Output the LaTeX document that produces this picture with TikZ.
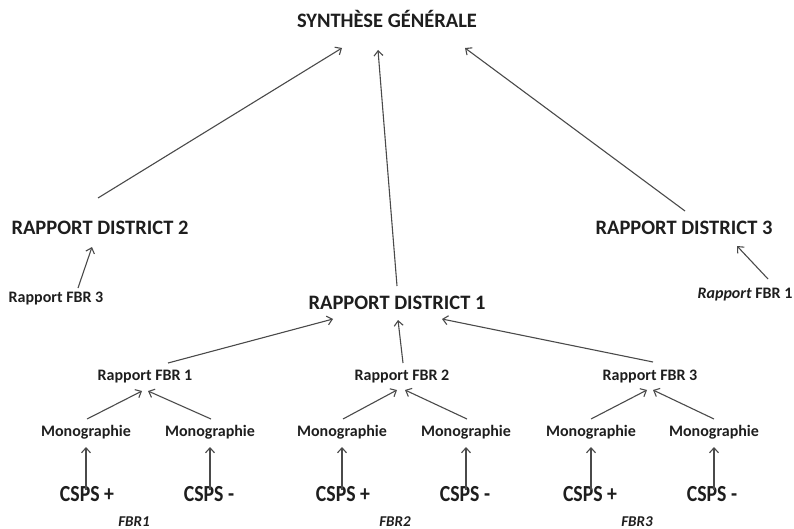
\documentclass[tikz,border=0pt]{standalone}
\usepackage{fontspec}
\setmainfont{Carlito}
\newfontfamily\cspsfont[FakeStretch=0.86]{Carlito}
\usepackage{tikz}
\usetikzlibrary{arrows.meta, positioning}

\definecolor{inkdark}{HTML}{1E1E1E}
\definecolor{linegray}{HTML}{4A4A4A}

\begin{document}
\begin{tikzpicture}[
    x=1pt, y=-1pt,
    every node/.style={inner sep=0pt, anchor=base, text=inkdark},
    title/.style={font=\fontsize{20.5}{24}\selectfont\bfseries},
    district/.style={font=\fontsize{20.5}{24}\selectfont\bfseries},
    report/.style={font=\fontsize{16}{19}\selectfont\bfseries},
    mono/.style={font=\fontsize{16}{19}\selectfont\bfseries},
    csps/.style={font=\cspsfont\fontsize{23}{26}\selectfont\bfseries},
    zone/.style={font=\fontsize{15}{17}\selectfont\bfseries\itshape},
    arrow/.style={-{Straight Barb[length=5pt, width=9pt]}, line width=1.1pt, draw=linegray}
]
\useasboundingbox (0,0) rectangle (794,529);

% top level
\node[title] (synth) at (387,28) {SYNTHÈSE GÉNÉRALE};

% districts
\node[district] (d2) at (100,234) {RAPPORT DISTRICT 2};
\node[district] (d3) at (684,234) {RAPPORT DISTRICT 3};
\node[district] (d1) at (397,309) {RAPPORT DISTRICT 1};

\node[report] (fbr3L) at (56,302) {Rapport FBR 3};
\node[report] (fbr1R) at (745,298) {\textit{Rapport} FBR 1};

% district 1 detail
\node[report] (fbr1) at (145,380) {Rapport FBR 1};
\node[report] (fbr2) at (402,380) {Rapport FBR 2};
\node[report] (fbr3) at (650,380) {Rapport FBR 3};

\foreach \i/\x in {1/86, 2/210, 3/342, 4/466, 5/591, 6/714}
    \node[mono] (m\i) at (\x,436) {Monographie};

\foreach \i/\x/\s in {1/87/+, 2/209/-, 3/343/+, 4/465/-, 5/590/+, 6/712/-}
    \node[csps] (c\i) at (\x,501) {CSPS \s};

\node[zone] (z1) at (134,526) {FBR1};
\node[zone] (z2) at (395,526) {FBR2};
\node[zone] (z3) at (637,526) {FBR3};

% connectors
\draw[arrow] ([shift={(-2,-36)}]d2.base) -- ([shift={(-45,20)}]synth.base);
\draw[arrow] ([shift={(0,-23)}]d1.base) -- ([shift={(-9,22)}]synth.base);
\draw[arrow] ([shift={(1,-23)}]d3.base) -- ([shift={(78,20)}]synth.base);

\draw[arrow] ([shift={(22,-14)}]fbr3L.base) -- ([shift={(-8,13)}]d2.base);
\draw[arrow] ([shift={(23,-19)}]fbr1R.base) -- ([shift={(53,12)}]d3.base);

\draw[arrow] ([shift={(23,-17)}]fbr1.base) -- ([shift={(-64,10)}]d1.base);
\draw[arrow] ([shift={(1,-17)}]fbr2.base) -- ([shift={(1,11)}]d1.base);
\draw[arrow] ([shift={(3,-18)}]fbr3.base) -- ([shift={(45,10)}]d1.base);

\draw[arrow] ([shift={(1,-17)}]m1.base) -- ([shift={(-3,11)}]fbr1.base);
\draw[arrow] ([shift={(1,-17)}]m2.base) -- ([shift={(3,11)}]fbr1.base);
\draw[arrow] ([shift={(1,-17)}]m3.base) -- ([shift={(-5,10)}]fbr2.base);
\draw[arrow] ([shift={(1,-17)}]m4.base) -- ([shift={(3,10)}]fbr2.base);
\draw[arrow] ([shift={(0,-17)}]m5.base) -- ([shift={(-3,10)}]fbr3.base);
\draw[arrow] ([shift={(0,-17)}]m6.base) -- ([shift={(3,10)}]fbr3.base);

\foreach \i in {1,...,6}
    \draw[arrow] (m\i.base |- c\i.base) ++(0,-11) -- ([shift={(0,11)}]m\i.base);
\end{tikzpicture}
\end{document}
